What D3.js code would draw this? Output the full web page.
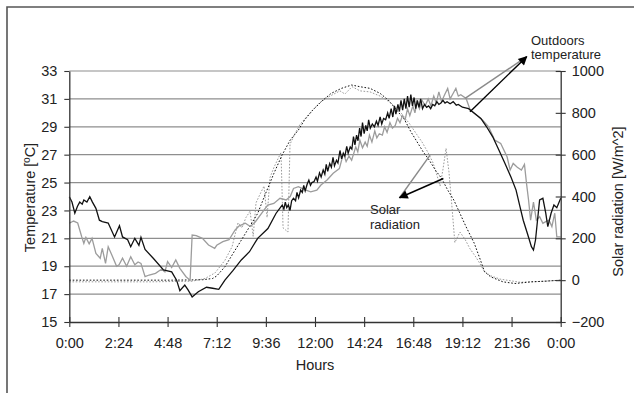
<!DOCTYPE html>
<html>
<head>
<meta charset="utf-8">
<script src="https://cdn.jsdelivr.net/npm/d3@7/dist/d3.min.js"></script>
<style>
  html, body { margin: 0; padding: 0; background: #fff; }
  svg { display: block; font-family: "Liberation Sans", Arial, Helvetica, sans-serif; }
</style>
</head>
<body>
<svg id="chart" width="641" height="398"></svg>
<script>
// Time of day in hours (0–24), temperatures in °C, radiation in W/m^2

const hourTicks = [0, 2.4, 4.8, 7.2, 9.6, 12, 14.4, 16.8, 19.2, 21.6, 24];
const tempTicks = [15, 17, 19, 21, 23, 25, 27, 29, 31, 33];
const radTicks = [-200, 0, 200, 400, 600, 800, 1000];

// outdoors temperature, first sensor (dark trace)
const tempA = [
  [0.00, 23.98], [0.13, 23.6], [0.27, 22.8], [0.40, 23.3], [0.51, 23.6], [0.63, 23.45],
  [0.71, 23.75], [0.86, 23.6], [1.00, 23.98], [1.13, 23.6], [1.30, 23.15], [1.47, 22.3],
  [1.61, 22.2], [1.90, 22.1], [2.21, 21.1], [2.45, 21.9], [2.60, 21.1], [2.85, 20.9],
  [3.00, 20.4], [3.20, 21.0], [3.40, 20.5], [3.50, 21.07], [3.70, 20.2], [4.10, 19.57],
  [4.60, 18.73], [5.00, 18.6], [5.24, 18.0], [5.40, 17.24], [5.64, 17.65], [5.80, 17.3],
  [6.00, 16.8], [6.30, 17.17], [6.70, 17.49], [7.00, 17.42], [7.30, 17.34], [7.60, 18.0],
  [8.00, 18.7], [8.40, 19.45], [8.80, 20.04], [9.20, 21.0], [9.70, 21.7], [10.10, 22.8],
  [10.40, 23.39], [10.48, 23.1], [10.55, 23.6], [10.62, 23.2], [10.70, 23.4], [10.78, 23.0],
  [10.86, 23.7], [10.95, 23.87], [11.05, 23.7], [11.12, 24.3], [11.20, 23.9], [11.30, 24.46],
  [11.38, 24.3], [11.45, 24.8], [11.52, 24.4], [11.62, 24.9], [11.70, 25.18], [11.78, 24.8],
  [11.85, 25.0], [11.95, 25.06], [12.05, 25.4], [12.12, 25.1], [12.22, 25.7], [12.30, 25.4],
  [12.40, 25.9], [12.48, 25.6], [12.55, 26.3], [12.62, 25.8], [12.72, 26.37], [12.80, 26.1],
  [12.88, 26.8], [12.95, 26.2], [13.05, 26.6], [13.12, 26.4], [13.22, 27.3], [13.30, 26.7],
  [13.38, 27.1], [13.46, 26.9], [13.55, 27.6], [13.62, 27.1], [13.72, 27.56], [13.80, 27.4],
  [13.88, 28.3], [13.95, 27.7], [14.03, 28.4], [14.10, 28.0], [14.18, 28.9], [14.25, 28.3],
  [14.32, 29.3], [14.40, 28.5], [14.48, 29.1], [14.55, 28.7], [14.62, 29.5], [14.70, 28.9],
  [14.80, 29.2], [14.90, 29.0], [15.00, 29.4], [15.08, 29.1], [15.18, 29.7], [15.26, 29.2],
  [15.35, 29.6], [15.45, 29.5], [15.55, 30.0], [15.62, 29.6], [15.72, 30.3], [15.80, 29.7],
  [15.88, 30.5], [15.95, 29.9], [16.05, 30.6], [16.12, 30.1], [16.20, 30.9], [16.28, 30.2],
  [16.36, 31.0], [16.44, 30.3], [16.52, 31.2], [16.60, 30.4], [16.68, 31.3], [16.76, 30.5],
  [16.84, 31.1], [16.92, 30.3], [17.00, 30.9], [17.08, 30.4], [17.16, 31.0], [17.25, 30.3],
  [17.35, 30.6], [17.45, 30.4], [17.55, 30.5], [17.65, 30.3], [17.75, 30.6], [17.85, 30.5],
  [17.95, 30.8], [18.05, 30.6], [18.15, 30.7], [18.25, 30.9], [18.35, 30.7], [18.45, 30.8],
  [18.60, 30.65], [18.75, 30.8], [18.90, 30.55], [19.00, 30.6], [19.20, 30.4], [19.50, 30.3],
  [19.80, 29.96], [20.10, 29.6], [20.38, 29.0], [20.68, 28.28], [20.98, 27.33], [21.28, 26.37],
  [21.57, 25.4], [21.82, 24.46], [22.01, 23.27], [22.17, 22.3], [22.37, 21.36], [22.57, 20.4],
  [22.67, 20.16], [22.77, 20.88], [22.97, 23.75], [23.13, 23.87], [23.27, 22.8], [23.37, 21.84],
  [23.53, 22.8], [23.67, 23.39], [23.81, 23.2], [24.00, 23.87]
];

// outdoors temperature, second sensor (light trace)
const tempB = [
  [0.00, 22.08], [0.21, 22.24], [0.41, 22.1], [0.61, 21.1], [0.71, 20.64], [0.81, 21.07],
  [0.97, 20.6], [1.11, 21.0], [1.30, 19.92], [1.51, 19.57], [1.61, 20.28], [1.77, 19.2],
  [1.90, 20.4], [2.05, 19.9], [2.31, 19.0], [2.43, 19.1], [2.60, 19.57], [2.80, 19.0],
  [3.00, 19.68], [3.20, 19.1], [3.36, 19.3], [3.50, 19.2], [3.70, 18.25], [3.90, 18.37],
  [4.21, 18.49], [4.50, 18.78], [4.67, 18.6], [4.80, 19.33], [5.00, 18.9], [5.20, 19.45],
  [5.40, 18.85], [5.70, 18.25], [5.90, 18.0], [6.00, 21.24], [6.20, 21.2], [6.50, 21.0],
  [6.80, 20.52], [7.10, 20.28], [7.20, 20.5], [7.50, 20.76], [7.80, 20.9], [8.10, 21.6],
  [8.30, 21.9], [8.60, 22.08], [8.84, 21.85], [9.09, 22.19], [9.40, 22.8], [9.69, 23.39],
  [9.99, 23.5], [10.29, 23.87], [10.59, 23.75], [10.79, 24.0], [10.95, 24.58], [11.19, 24.7],
  [11.49, 24.5], [11.79, 24.34], [12.09, 24.46], [12.29, 24.82], [12.59, 25.18], [12.89, 25.66],
  [13.19, 26.0], [13.39, 27.09], [13.52, 26.5], [13.66, 26.9], [13.79, 26.6], [13.99, 27.56],
  [14.09, 27.2], [14.19, 28.04], [14.32, 27.5], [14.45, 27.9], [14.55, 27.6], [14.66, 28.4],
  [14.78, 27.9], [14.92, 28.7], [15.02, 28.2], [15.14, 28.5], [15.29, 28.4], [15.40, 29.0],
  [15.52, 28.6], [15.66, 29.3], [15.78, 28.9], [15.92, 29.1], [16.03, 29.6], [16.15, 29.3],
  [16.27, 29.8], [16.40, 29.5], [16.52, 30.3], [16.63, 29.8], [16.78, 30.5], [16.88, 30.0],
  [16.98, 30.79], [17.10, 30.3], [17.23, 30.9], [17.38, 30.5], [17.53, 31.0], [17.66, 30.5],
  [17.80, 31.2], [17.92, 30.7], [18.05, 31.5], [18.18, 30.8], [18.33, 31.3], [18.48, 31.75],
  [18.60, 31.0], [18.75, 31.4], [18.88, 31.75], [19.00, 31.2], [19.12, 31.3], [19.38, 31.03],
  [19.58, 30.2], [19.88, 29.84], [20.18, 29.48], [20.48, 29.0], [20.78, 28.04], [21.07, 27.8],
  [21.38, 26.85], [21.53, 25.9], [21.68, 26.37], [21.88, 26.1], [22.08, 25.9], [22.23, 26.3],
  [22.33, 24.94], [22.43, 23.75], [22.53, 22.3], [22.67, 23.6], [22.81, 22.3], [22.97, 22.55],
  [23.13, 22.08], [23.27, 22.2], [23.43, 22.3], [23.57, 21.84], [23.71, 22.8], [23.81, 21.1],
  [24.00, 21.1]
];

// solar radiation, first sensor (dark dotted trace)
const radA = [
  [0.00, 0], [5.00, 0], [6.50, 2], [7.00, 8], [7.20, 20], [7.60, 64], [8.00, 128],
  [8.40, 191], [8.80, 255], [9.20, 319], [9.59, 415], [9.99, 510], [10.39, 598],
  [10.79, 670], [11.19, 718], [11.49, 766], [11.89, 813], [12.39, 861], [12.79, 893],
  [13.29, 917], [13.79, 933], [14.19, 925], [14.69, 917], [15.18, 893], [15.58, 861],
  [15.99, 813], [16.38, 766], [16.68, 710], [16.98, 662], [17.28, 614], [17.58, 574],
  [17.88, 526], [18.18, 487], [18.48, 431], [18.78, 383], [19.08, 319], [19.38, 255],
  [19.78, 176], [20.08, 96], [20.28, 40], [20.58, 16], [21.18, -8], [21.77, -16],
  [22.57, -8], [23.23, -5], [24.00, 0]
];

// solar radiation, second sensor (light dotted trace)
const radB = [
  [0.00, -8], [3.95, -8], [6.00, -5], [6.63, 8], [7.12, 35], [7.60, 95], [7.95, 160],
  [8.24, 275], [8.43, 250], [8.63, 300], [8.83, 330], [8.98, 210], [9.12, 370], [9.31, 410],
  [9.51, 450], [9.66, 300], [9.80, 490], [10.00, 540], [10.19, 580], [10.34, 610], [10.44, 250],
  [10.68, 230], [10.78, 650], [11.02, 700], [11.27, 745], [11.76, 800], [12.24, 850],
  [12.73, 880], [13.22, 905], [13.46, 890], [13.81, 925], [14.20, 905], [14.69, 900],
  [15.18, 880], [15.67, 850], [16.16, 805], [16.64, 745], [16.98, 695], [17.23, 660],
  [17.52, 610], [17.77, 560], [17.96, 500], [18.11, 450], [18.25, 530], [18.40, 630],
  [18.54, 520], [18.69, 350], [18.83, 180], [19.08, 230], [19.33, 195], [19.57, 150],
  [19.86, 110], [20.05, 80], [20.25, 45], [20.55, 22], [21.04, 5], [22.02, -10],
  [23.00, -6], [24.00, 0]
];

const svg = d3.select("#chart");
const FONT = 14.5;

const x = d3.scaleLinear().domain([0, 24]).range([69.3, 560.7]);
const yT = d3.scaleLinear().domain([15, 33]).range([322, 71]);
const yR = d3.scaleLinear().domain([-200, 1000]).range([322, 71]);

const fmtHour = h => {
  const total = Math.round(h * 60);
  const hh = Math.floor(total / 60) % 24;
  const mm = total % 60;
  return hh + ":" + String(mm).padStart(2, "0");
};

// outer frame (top and left edges)
svg.append("path")
  .attr("d", "M7,393 L7,7 L634,7")
  .attr("fill", "none").attr("stroke", "#555").attr("stroke-width", 1.6);

// horizontal grid at each temperature tick
svg.append("g").selectAll("line")
  .data(tempTicks.filter(t => t !== 15))
  .join("line")
  .attr("x1", x(0)).attr("x2", x(24))
  .attr("y1", d => yT(d)).attr("y2", d => yT(d))
  .attr("stroke", "#8e8e8e").attr("stroke-width", 1.2);

// data traces
const line = (ys) => d3.line().x(d => x(d[0])).y(d => ys(d[1]));

svg.append("path").datum(radB).attr("d", line(yR))
  .attr("fill", "none").attr("stroke", "#9a9a9a").attr("stroke-width", 1)
  .attr("stroke-dasharray", "1.6,1.6");
svg.append("path").datum(radA).attr("d", line(yR))
  .attr("fill", "none").attr("stroke", "#111").attr("stroke-width", 1)
  .attr("stroke-dasharray", "1.6,1.8");
svg.append("path").datum(tempB).attr("d", line(yT))
  .attr("fill", "none").attr("stroke", "#9c9c9c").attr("stroke-width", 1.3);
svg.append("path").datum(tempA).attr("d", line(yT))
  .attr("fill", "none").attr("stroke", "#111").attr("stroke-width", 1.3);

// axes
const styleAxis = g => {
  g.select(".domain").attr("stroke", "#333").attr("stroke-width", 1.3);
  g.selectAll(".tick line").attr("stroke", "#333").attr("stroke-width", 1.1);
  g.selectAll(".tick text").attr("fill", "#222")
    .style("font-size", FONT + "px");
};

const gLeft = svg.append("g").attr("transform", `translate(${x(0)},0)`)
  .call(d3.axisLeft(yT).tickValues(tempTicks).tickSizeInner(5).tickSizeOuter(0).tickPadding(7));
styleAxis(gLeft);

const gRight = svg.append("g").attr("transform", `translate(${x(24)},0)`)
  .call(d3.axisRight(yR).tickValues(radTicks).tickSizeInner(5).tickSizeOuter(0).tickPadding(6)
    .tickFormat(d3.format("d")));
styleAxis(gRight);
gRight.selectAll(".tick line").attr("x1", -5);

const gBottom = svg.append("g").attr("transform", `translate(0,${yT(15)})`)
  .call(d3.axisBottom(x).tickValues(hourTicks).tickSizeInner(5).tickSizeOuter(0).tickPadding(11)
    .tickFormat(fmtHour));
styleAxis(gBottom);
gBottom.selectAll(".tick line").attr("y1", -5);

// axis titles
svg.append("text")
  .attr("transform", `translate(35,${(yT(15) + yT(33)) / 2 + 1}) rotate(-90)`)
  .attr("text-anchor", "middle").attr("fill", "#222")
  .style("font-size", FONT + "px")
  .text("Temperature [ºC]");

svg.append("text")
  .attr("transform", `translate(623,${(yR(-200) + yR(1000)) / 2 + 5}) rotate(-90)`)
  .attr("text-anchor", "middle").attr("fill", "#222")
  .style("font-size", FONT + "px")
  .text("Solar radiation [W/m^2]");

svg.append("text")
  .attr("x", (x(0) + x(24)) / 2).attr("y", 370)
  .attr("text-anchor", "middle").attr("fill", "#222")
  .style("font-size", FONT + "px")
  .text("Hours");

// annotation arrows
const defs = svg.append("defs");
defs.append("marker")
  .attr("id", "head").attr("viewBox", "0 0 10 10")
  .attr("refX", 9).attr("refY", 5)
  .attr("markerWidth", 11).attr("markerHeight", 9)
  .attr("markerUnits", "userSpaceOnUse")
  .attr("orient", "auto")
  .append("path").attr("d", "M0,0 L10,5 L0,10 Z").attr("fill", "#000");

const arrow = (x1, y1, x2, y2, color, head) => {
  const l = svg.append("line")
    .attr("x1", x1).attr("y1", y1).attr("x2", x2).attr("y2", y2)
    .attr("stroke", color).attr("stroke-width", 1.4);
  if (head) l.attr("marker-end", "url(#head)");
};

// outdoors temperature callout
const tipT = [x(22.34), yT(34.03)];
arrow(x(19.33), yT(31.04), tipT[0], tipT[1], "#8a8a8a", false);
arrow(x(19.57), yT(30.08), tipT[0], tipT[1], "#000", true);

// solar radiation callout
const tipR = [x(16.13), yR(394)];
arrow(x(17.62), yR(598), tipR[0], tipR[1], "#8a8a8a", false);
arrow(x(18.27), yR(486), tipR[0], tipR[1], "#000", true);

const label = (lines, lx, ly, step) => {
  const t = svg.append("text").attr("fill", "#222").style("font-size", "13px");
  lines.forEach((s, i) => t.append("tspan").attr("x", lx).attr("y", ly + i * step).text(s));
};
label(["Outdoors", "temperature"], 531, 45, 13.5);
label(["Solar", "radiation"], 370, 214, 14.5);
</script>
</body>
</html>
